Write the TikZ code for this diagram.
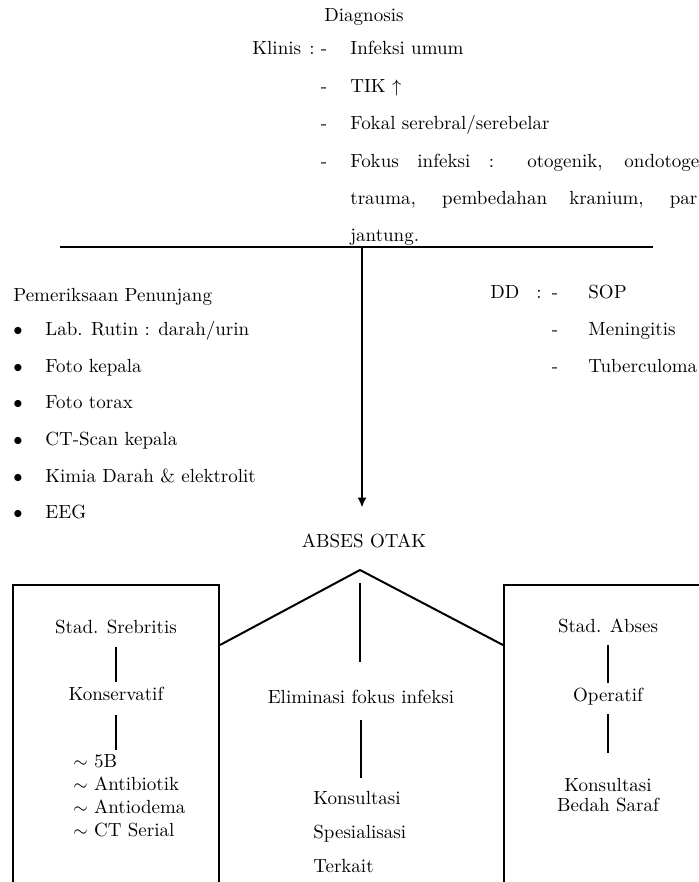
\documentclass[tikz,border=0pt]{standalone}
\usepackage{amsmath,amssymb}
\usepackage{tikz}
\usetikzlibrary{arrows.meta}
\tikzset{
  txt/.style={inner sep=0pt, text height=7pt, text depth=2pt, font=\fontsize{9.5}{11}\selectfont},
  lst/.style={inner sep=0pt, font=\fontsize{9.5}{#1}\selectfont},
  link/.style={line width=0.9pt, shorten <=5pt, shorten >=2pt},
  panel/.style={draw, line width=1pt, inner sep=0pt, anchor=north west}
}

\begin{document}
\begin{tikzpicture}[x=0.5pt,y=-0.5pt]
  \useasboundingbox (0,0) rectangle (699,882);
  \clip (0,0) rectangle (699,882);
  % Diagnosis: klinis
  \node[txt] (diag) at (364,17) {Diagnosis};
  \node[txt, anchor=west] (klinis) at (252,50) {Klinis};
  \node[txt] (kcolon) at (312,50) {:};
  \node[txt] (d1) at (324,50) {-};
  \node[txt] (d2) at (324,88) {-};
  \node[txt] (d3) at (324,125) {-};
  \node[txt] (d4) at (324,163) {-};
  \node[txt, anchor=west] (infeksi) at (350,50) {Infeksi umum};
  \node[txt, anchor=west] (tik) at (350,88) {TIK $\uparrow$};
  \node[txt, anchor=west] (fokal) at (350,125) {Fokal serebral/serebelar};
  \node[txt, anchor=west] (fokus) at (350,163) {\makebox[174.5pt][s]{Fokus infeksi : otogenik, ondotoge}};
  \node[txt, anchor=west] (trauma) at (350,200) {\makebox[173.5pt][s]{trauma, pembedahan kranium, par}};
  \node[txt, anchor=west] (jantung) at (350,237) {jantung.};
  % rule and main arrow
  \coordinate (ruleL) at (60,247);
  \coordinate (ruleR) at (653,247);
  \coordinate (split) at (362,247);
  \draw[line width=1.2pt] (ruleL) -- (ruleR);
  % Pemeriksaan penunjang
  \node[txt, anchor=west] (penunjang) at (13,296) {Pemeriksaan Penunjang};
  \node[txt] (b1) at (18,330) {$\bullet$};
  \node[txt] (b2) at (18,367) {$\bullet$};
  \node[txt] (b3) at (18,403) {$\bullet$};
  \node[txt] (b4) at (18,440) {$\bullet$};
  \node[txt] (b5) at (18,477) {$\bullet$};
  \node[txt] (b6) at (18,513) {$\bullet$};
  \node[txt, anchor=west] (lab) at (45,330) {Lab. Rutin : darah/urin};
  \node[txt, anchor=west] (fkepala) at (45,367) {Foto kepala};
  \node[txt, anchor=west] (ftorax) at (45,403) {Foto torax};
  \node[txt, anchor=west] (ctscan) at (45,440) {CT-Scan kepala};
  \node[txt, anchor=west] (kimia) at (45,477) {Kimia Darah \& elektrolit};
  \node[txt, anchor=west] (eeg) at (45,513) {EEG};
  % DD
  \node[txt, anchor=west] (dd) at (490,293) {DD};
  \node[txt] (ddcolon) at (539,293) {:};
  \node[txt] (e1) at (555,293) {-};
  \node[txt] (e2) at (555,330) {-};
  \node[txt] (e3) at (555,367) {-};
  \node[txt, anchor=west] (sop) at (588,293) {SOP};
  \node[txt, anchor=west] (meningitis) at (588,330) {Meningitis};
  \node[txt, anchor=west] (tbc) at (588,367) {Tuberculoma};
  % Abses otak
  \node[txt] (abses) at (364,542) {ABSES OTAK};
  \draw[line width=1pt, -{Latex[length=5pt,width=4.5pt]}, shorten >=12.5pt] (split) -- (split |- abses.north);
  \node[panel, minimum width=103pt, minimum height=160pt] (lbox) at (12,584) {};
  \node[panel, minimum width=110pt, minimum height=160pt] (rbox) at (503,584) {};
  \coordinate (apex) at (360,570);
  \draw[line width=1pt] ([yshift=-30.5pt]lbox.north east) -- (apex) -- ([yshift=-30.5pt]rbox.north west);
  % left: stadium serebritis
  \node[txt] (srebritis) at (116,628) {Stad. Srebritis};
  \node[txt] (konservatif) at (116,695) {Konservatif};
  \node[lst=11.5pt, align=left, anchor=north west] (terapi) at (73,754)
    {$\sim$ 5B\\ $\sim$ Antibiotik\\ $\sim$ Antiodema\\ $\sim$ CT Serial};
  \draw[link] (srebritis) -- (konservatif);
  \draw[link, shorten <=5.5pt] (konservatif) -- (konservatif |- terapi.north);
  % middle: eliminasi
  \node[txt] (eliminasi) at (361,698) {Eliminasi fokus infeksi};
  \node[lst=17pt, align=left, anchor=north west] (spesialis) at (313,791)
    {Konsultasi\\ Spesialisasi\\ Terkait};
  \draw[link, shorten <=6.5pt, shorten >=13.5pt] (apex) -- (apex |- eliminasi.north);
  \draw[link, shorten <=6.5pt, shorten >=6.5pt] (eliminasi) -- (eliminasi |- spesialis.north);
  % right: stadium abses
  \node[txt] (stadabses) at (608,627) {Stad. Abses};
  \node[txt] (operatif) at (608,696) {Operatif};
  \node[lst=10pt, align=center, anchor=north] (bedah) at (608,778)
    {Konsultasi\\ Bedah Saraf};
  \draw[link, shorten <=4.5pt] (stadabses) -- (operatif);
  \draw[link, shorten <=4.5pt, shorten >=12.5pt] (operatif) -- (operatif |- bedah.north);
\end{tikzpicture}
\end{document}
